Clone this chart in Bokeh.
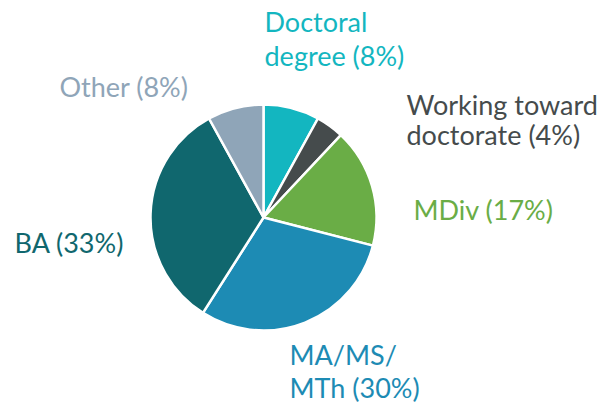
import math
from bokeh.plotting import figure
from bokeh.models import Range1d, ColumnDataSource
from bokeh.core.properties import value
from bokeh.embed import file_html
from bokeh.resources import INLINE

# ---- data ----
categories = ["Doctoral degree", "Working toward doctorate", "MDiv", "MA/MS/MTh", "BA", "Other"]
shares = [8, 4, 17, 30, 33, 8]
colors = ["#13b6c0", "#454b4c", "#6aad46", "#1d8bb4", "#10676e", "#8fa5b8"]
label_lines = [
    ["Doctoral", "degree (8%)"],
    ["Working toward", "doctorate (4%)"],
    ["MDiv (17%)"],
    ["MA/MS/", "MTh (30%)"],
    ["BA (33%)"],
    ["Other (8%)"],
]

# ---- layout (image pixel coordinates; y measured from top) ----
W, H = 615, 406
cx, cy, r = 263, 217, 113
label_pos = [  # left x, baselines of each line
    (264, [32, 66]),
    (406, [115, 145]),
    (413, [220]),
    (289, [365, 398]),
    (14, [253]),
    (59, [97]),
]
baseline_fix = 11
font = "Lato"
fsize = "27px"

p = figure(width=W, height=H, output_backend="svg", toolbar_location=None,
           x_range=Range1d(0, W), y_range=Range1d(0, H), min_border=0)
p.axis.visible = False
p.grid.visible = False
p.outline_line_color = None
p.background_fill_color = "white"

total = float(sum(shares))
starts, ends = [], []
cum = 0.0
for s in shares:
    a0 = math.pi / 2 - 2 * math.pi * cum / total
    cum += s
    a1 = math.pi / 2 - 2 * math.pi * cum / total
    starts.append(a0)
    ends.append(a1)

src = ColumnDataSource(dict(start=starts, end=ends, color=colors, cat=categories,
                            x=[cx] * len(shares), y=[H - cy] * len(shares)))
p.wedge(x="x", y="y", radius=r, start_angle="start", end_angle="end", direction="clock",
        fill_color="color", line_color="white", line_width=2.5, source=src)

for lines, (lx, bls), col in zip(label_lines, label_pos, colors):
    xs = [lx] * len(lines)
    ys = [H - (b - baseline_fix) for b in bls]
    p.text(x=xs, y=ys, text=lines, text_color=col, text_font=value(font),
           text_font_size=fsize, text_align="left", text_baseline="alphabetic")

open("out.html", "w").write(file_html(p, INLINE))
